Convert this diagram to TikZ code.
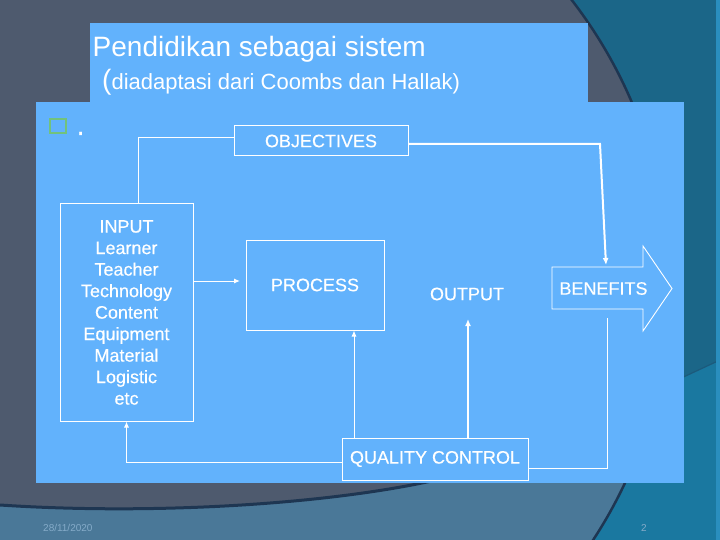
\documentclass[tikz,border=0pt]{standalone}
\usepackage{fontspec}
\setmainfont{Liberation Sans}
\newfontfamily\labelfont[FakeBold=0.35]{Liberation Sans}
\usetikzlibrary{arrows.meta}
\definecolor{slate}{HTML}{4E5A6E}
\definecolor{steel}{HTML}{4A7898}
\definecolor{tealA}{HTML}{1B6688}
\definecolor{tealB}{HTML}{1A78A0}
\definecolor{tealC}{HTML}{2A8EBE}
\definecolor{tealline}{HTML}{1C5A7C}
\definecolor{edgecol}{HTML}{1E3652}
\definecolor{panel}{HTML}{62B2FC}
\definecolor{bulletgreen}{HTML}{72C27C}
\definecolor{footer}{HTML}{85ABC9}
\begin{document}
\begin{tikzpicture}[x=1pt,y=-1pt,
  box/.style={draw=white, line width=1pt, rectangle, inner sep=0pt, text=white, font=\labelfont\fontsize{18}{21.5}\selectfont},
  lbl/.style={text=white, inner sep=0pt, font=\labelfont\fontsize{18}{21.5}\selectfont},
  conn/.style={draw=white, line width=1pt},
  thickconn/.style={draw=white, line width=2pt},
  tip/.style={-{Latex[length=6pt,width=5pt]}},
  bigtip/.style={-{Latex[length=7pt,width=6pt]}},
  foot/.style={text=footer, inner sep=0pt, font=\fontsize{10}{12}\selectfont}]
\useasboundingbox (0,0) rectangle (720,540);
\clip (0,0) rectangle (720,540);
% background
\fill[tealA] (0,0) rectangle (720,540);
\fill[tealB] (400,509) -- (720,360) -- (720,540) -- (400,540) -- cycle;
\draw[tealline, line width=1.2pt] (400,509) -- (720,360);
\fill[tealC] (716,0) rectangle (720,540);
\begin{scope}
  \clip (203,285) circle[radius=466pt];
  \fill[slate] (-300,-300) rectangle (900,900);
  \fill[steel] (-10,505) -- (0,505) .. controls (150,515) and (330,505) .. (445,478) -- (640,300) -- (720,300) -- (720,560) -- (-10,560) -- cycle;
  \draw[edgecol, line width=3pt] (-10,505) -- (0,505) .. controls (150,515) and (330,505) .. (445,478);
\end{scope}
\draw[edgecol, line width=2.5pt] (203,285) circle[radius=466pt];
% panels
\fill[panel] (90,23) rectangle (588,102);
\fill[panel] (36,102) rectangle (684,483);
% title
\node[anchor=base west, text=white, inner sep=0pt, font=\fontsize{28}{34}\selectfont] (title) at (92.5,57) {Pendidikan sebagai sistem};
\node[anchor=base west, text=white, inner sep=0pt, font=\fontsize{22}{26}\selectfont] (subtitle) at (102,90) {{\fontsize{28}{34}\selectfont(}diadaptasi dari Coombs dan Hallak)};
% bullet
\draw[bulletgreen, line width=2.8pt] (50,119) rectangle (66,133);
\node[anchor=base west, text=white, inner sep=0pt, font=\labelfont\fontsize{28}{34}\selectfont] (dot) at (76.5,135) {.};
% nodes
\node[box, minimum width=174pt, minimum height=30pt] (obj) at (321,141) {OBJECTIVES};
\node[box, minimum width=133pt, minimum height=217pt, align=center] (input) at (126.5,312.5) {INPUT\\Learner\\Teacher\\Technology\\Content\\Equipment\\Material\\Logistic\\etc};
\node[box, minimum width=138pt, minimum height=90pt] (process) at (315,285) {PROCESS};
\node[lbl] (output) at (467,294) {OUTPUT};
\node[lbl] (benefits) at (603.5,288.5) {BENEFITS};
\draw[white, line width=0.9pt] (552,267) -- (643,267) -- (643,246) -- (672,288.5) -- (643,331) -- (643,309) -- (552,309) -- cycle;
\node[box, minimum width=186pt, minimum height=42pt] (qc) at (435,459) {QUALITY CONTROL};
% helper coordinates
\coordinate (objturn) at (600,144);
\coordinate (bentop) at (606,265);
\coordinate (procin) at (240,281);
\coordinate (qcx1) at (354,0);
\coordinate (outtip) at (468,319);
\coordinate (benbot) at (607,318);
% connectors
\draw[conn] ([xshift=11.5pt]input.north) |- ([yshift=3pt]obj.west);
\draw[thickconn, bigtip] ([yshift=-3pt]obj.east) -- (objturn) -- (bentop);
\draw[conn, tip] (input.east |- procin) -- (procin);
\draw[conn, tip] (qc.north -| qcx1) -- (process.south -| qcx1);
\draw[thickconn, bigtip] (qc.north -| outtip) -- (outtip);
\draw[conn, tip] ([yshift=-3pt]qc.west) -| (input.south);
\draw[conn] ([yshift=-9pt]qc.east) -| (benbot);
% footer
\node[foot, anchor=west] (date) at (43,528) {28/11/2020};
\node[foot] (page) at (644,528) {2};
\end{tikzpicture}
\end{document}
